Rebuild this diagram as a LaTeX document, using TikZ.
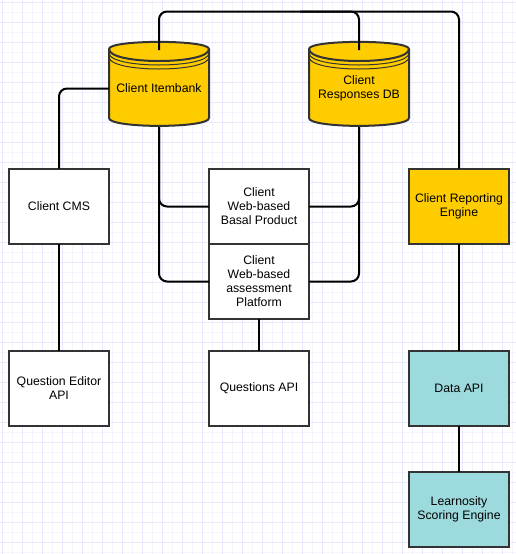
\documentclass[tikz,border=0pt]{standalone}
\usepackage{fontspec}
\setmainfont{Liberation Sans}
\definecolor{gridmajor}{RGB}{232,232,255}
\definecolor{gridminor}{RGB}{244,244,255}
\definecolor{clientyellow}{RGB}{255,204,0}
\definecolor{learnteal}{RGB}{157,218,221}
\definecolor{edgegrey}{RGB}{51,51,51}
\begin{document}
\begin{tikzpicture}[x=0.75pt, y=-0.75pt, every node/.style={font=\fontsize{9.2}{10.5}\selectfont, align=center},
    box/.style={draw=edgegrey, line width=1.5pt, fill=white, minimum width=75pt, minimum height=56.25pt, inner sep=0pt, outer sep=0pt},
    dblabel/.style={minimum width=75pt, minimum height=57.75pt, inner sep=0pt, outer sep=0pt},
    dbline/.style={draw=edgegrey, line width=1.5pt},
    link/.style={draw=black, line width=1.5pt, rounded corners=6pt}]
    \useasboundingbox (0, 0) rectangle (516, 554);
    \fill[white] (0, 0) rectangle (516, 554);
    % paper
    \foreach \i in {0,...,27} {
        \pgfmathsetmacro\x{\i*20+12}
        \pgfmathsetmacro\y{\i*20+12}
        \draw[gridminor, line width=0.75pt] (\x, 0) -- (\x, 554);
        \draw[gridminor, line width=0.75pt] (0, \y) -- (516, \y);
    }
    \foreach \i in {0,...,27} {
        \pgfmathsetmacro\x{\i*20+2}
        \pgfmathsetmacro\y{\i*20+2}
        \draw[gridmajor, line width=0.75pt] (\x, 0) -- (\x, 554);
        \draw[gridmajor, line width=0.75pt] (0, \y) -- (516, \y);
    }
    % stores
    \foreach \n/\x/\t in {itembank/159/{Client Itembank}, responses/359/{Client\\Responses DB}} {
        \begin{scope}[shift={(\x, 0)}]
            \path[dbline, fill=clientyellow] (-50, 49) .. controls (-50, 39.5) and (50, 39.5) .. (50, 49) -- (50, 118)
                .. controls (50, 128.5) and (-50, 128.5) .. (-50, 118) -- cycle;
            \foreach \k/\w in {0/1.5pt, 4/0.75pt, 8/0.75pt} {
                \draw[edgegrey, line width=\w] (-50, 49+\k) .. controls (-50, 65+\k) and (50, 65+\k) .. (50, 49+\k);
            }
        \end{scope}
        \node[dblabel] (\n) at (\x, 88.5) {\t};
    }
    % boxes
    \foreach \n/\x/\y/\t in {cms/59/206/{Client CMS}, editor/59/388.5/{Question Editor\\API}, basal/259/206.5/{Client\\Web-based\\Basal Product},
        platform/259/281.5/{Client\\Web-based\\assessment\\Platform}, questions/259/388.5/{Questions API}} {
        \node[box] (\n) at (\x, \y) {\t};
    }
    \node[box, fill=clientyellow] (reporting) at (459, 206) {Client Reporting\\Engine};
    \node[box, fill=learnteal] (data) at (459, 388.5) {Data API};
    \node[box, fill=learnteal] (scoring) at (459, 509.5) {Learnosity\\Scoring Engine};
    \coordinate (rail) at (300, 11.5);
    % connectors
    \draw[link] (itembank.north) |- (rail) -| (reporting.north);
    \draw[link] (responses.north) |- (rail);
    \draw[link] (itembank.west) -| (cms.north);
    \draw[link] (itembank.south) |- (basal.west);
    \draw[link] (itembank.south) |- (platform.west);
    \draw[link] (responses.south) |- (basal.east);
    \draw[link] (responses.south) |- (platform.east);
    \draw[link] (cms) -- (editor);
    \draw[link] (platform) -- (questions);
    \draw[link] (reporting) -- (data);
    \draw[link] (data) -- (scoring);
\end{tikzpicture}
\end{document}
